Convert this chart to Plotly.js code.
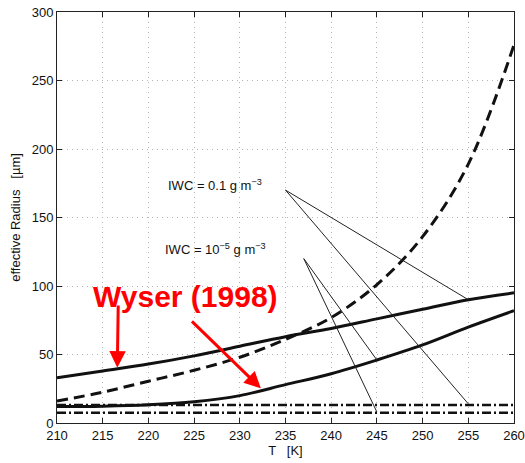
<!DOCTYPE html>
<html>
<head>
<meta charset="utf-8">
<script src="https://cdn.plot.ly/plotly-3.0.1.min.js"></script>
<style>
  html, body { margin: 0; padding: 0; background: #fff; }
  #chart { width: 525px; height: 463px; }
</style>
</head>
<body>
<div id="chart"></div>
<script>
// Temperature grid [K]
const temps = [210, 215, 220, 225, 230, 235, 240, 245, 250, 255, 260];

// Effective radius [µm]
const wyserHigh = [33, 38, 43, 49, 56, 63, 69, 76, 83, 90, 95];      // IWC = 0.1 g m^-3
const wyserLow  = [12, 12.3, 13.3, 15.5, 20, 28, 36, 46, 57, 70, 82]; // IWC = 1e-5 g m^-3
const dashedCurve = [16, 22.5, 30.5, 38.5, 48, 61, 77, 101, 136, 189, 276];
const dashDotHigh = [13.2, 13.2, 13.2, 13.2, 13.2, 13.2, 13.2, 13.2, 13.2, 13.2, 13.2];
const dashDotLow  = [7.5, 7.5, 7.5, 7.5, 7.5, 7.5, 7.5, 7.5, 7.5, 7.5, 7.5];

// Leader lines from the two IWC labels to their curves
const leaderHighX = [255, 235, 255];
const leaderHighY = [90, 170, 14];
const leaderLowX  = [245, 237, 245];
const leaderLowY  = [46, 120, 8];

// Axis ticks
const xTicks = [210, 215, 220, 225, 230, 235, 240, 245, 250, 255, 260];
const yTicks = [0, 50, 100, 150, 200, 250, 300];

// Red call-out: label position and arrow tails/heads
const calloutText = 'Wyser (1998)';
const calloutPos = [224.1, 92.3];
const arrowTailX = [216.7, 224.6];
const arrowTailY = [86.9, 75.2];
const arrowHeadX = [216.6, 232.3];
const arrowHeadY = [40.4, 25.3];

const black = '#111';
const fontFamily = 'Liberation Sans, Arial, sans-serif';

const traces = [
  { x: temps, y: wyserHigh, mode: 'lines', line: { color: black, width: 3, shape: 'spline' } },
  { x: temps, y: wyserLow, mode: 'lines', line: { color: black, width: 3, shape: 'spline' } },
  { x: temps, y: dashedCurve, mode: 'lines', line: { color: black, width: 3, shape: 'spline', dash: '11px,6px' } },
  { x: temps, y: dashDotHigh, mode: 'lines', line: { color: black, width: 2.5, dash: '9px,3px,2px,3px' } },
  { x: temps, y: dashDotLow, mode: 'lines', line: { color: black, width: 2.5, dash: '9px,3px,2px,3px' } },
  { x: leaderHighX, y: leaderHighY, mode: 'lines', line: { color: '#222', width: 1 } },
  { x: leaderLowX, y: leaderLowY, mode: 'lines', line: { color: '#222', width: 1 } }
];

const annotations = [
  {
    x: 227.3, y: 173.7, xref: 'x', yref: 'y', showarrow: false,
    text: 'IWC = 0.1 g m<sup>\u22123</sup>',
    font: { family: fontFamily, size: 13, color: '#111' }
  },
  {
    x: 227.3, y: 126.8, xref: 'x', yref: 'y', showarrow: false,
    text: 'IWC = 10<sup>\u22125</sup> g m<sup>\u22123</sup>',
    font: { family: fontFamily, size: 13, color: '#111' }
  },
  {
    x: calloutPos[0], y: calloutPos[1], xref: 'x', yref: 'y', showarrow: false,
    text: '<b>' + calloutText + '</b>',
    font: { family: fontFamily, size: 30, color: '#ff0000' }
  }
];

for (let i = 0; i < arrowHeadX.length; i++) {
  annotations.push({
    x: arrowHeadX[i], y: arrowHeadY[i], xref: 'x', yref: 'y',
    ax: arrowTailX[i], ay: arrowTailY[i], axref: 'x', ayref: 'y',
    text: '', showarrow: true, arrowhead: 2, arrowsize: 1.1, arrowwidth: 3,
    arrowcolor: '#ff0000', standoff: 0, startstandoff: 0
  });
}

const axisCommon = {
  showline: true, linecolor: '#222', linewidth: 1, mirror: 'ticks',
  ticks: 'inside', ticklen: 5, tickcolor: '#222', tickwidth: 1,
  showgrid: true, gridcolor: '#b4b4b4', gridwidth: 1, griddash: '1px,4px',
  zeroline: false,
  tickfont: { family: fontFamily, size: 13, color: '#111' }
};

const layout = {
  width: 525, height: 463,
  margin: { l: 57, r: 11, t: 12, b: 40 },
  paper_bgcolor: '#fff', plot_bgcolor: '#fff',
  showlegend: false,
  xaxis: Object.assign({}, axisCommon, {
    range: [210, 260], tickvals: xTicks, ticktext: xTicks.map(String),
    title: { text: 'T   [K]', standoff: 4, font: { family: fontFamily, size: 13, color: '#111' } }
  }),
  yaxis: Object.assign({}, axisCommon, {
    range: [0, 300], tickvals: yTicks, ticktext: yTicks.map(String),
    title: { text: 'effective Radius   [\u00b5m]', standoff: 8, font: { family: fontFamily, size: 13, color: '#111' } }
  }),
  annotations: annotations
};

Plotly.newPlot('chart', traces, layout, { displayModeBar: false, staticPlot: true });
</script>
</body>
</html>
